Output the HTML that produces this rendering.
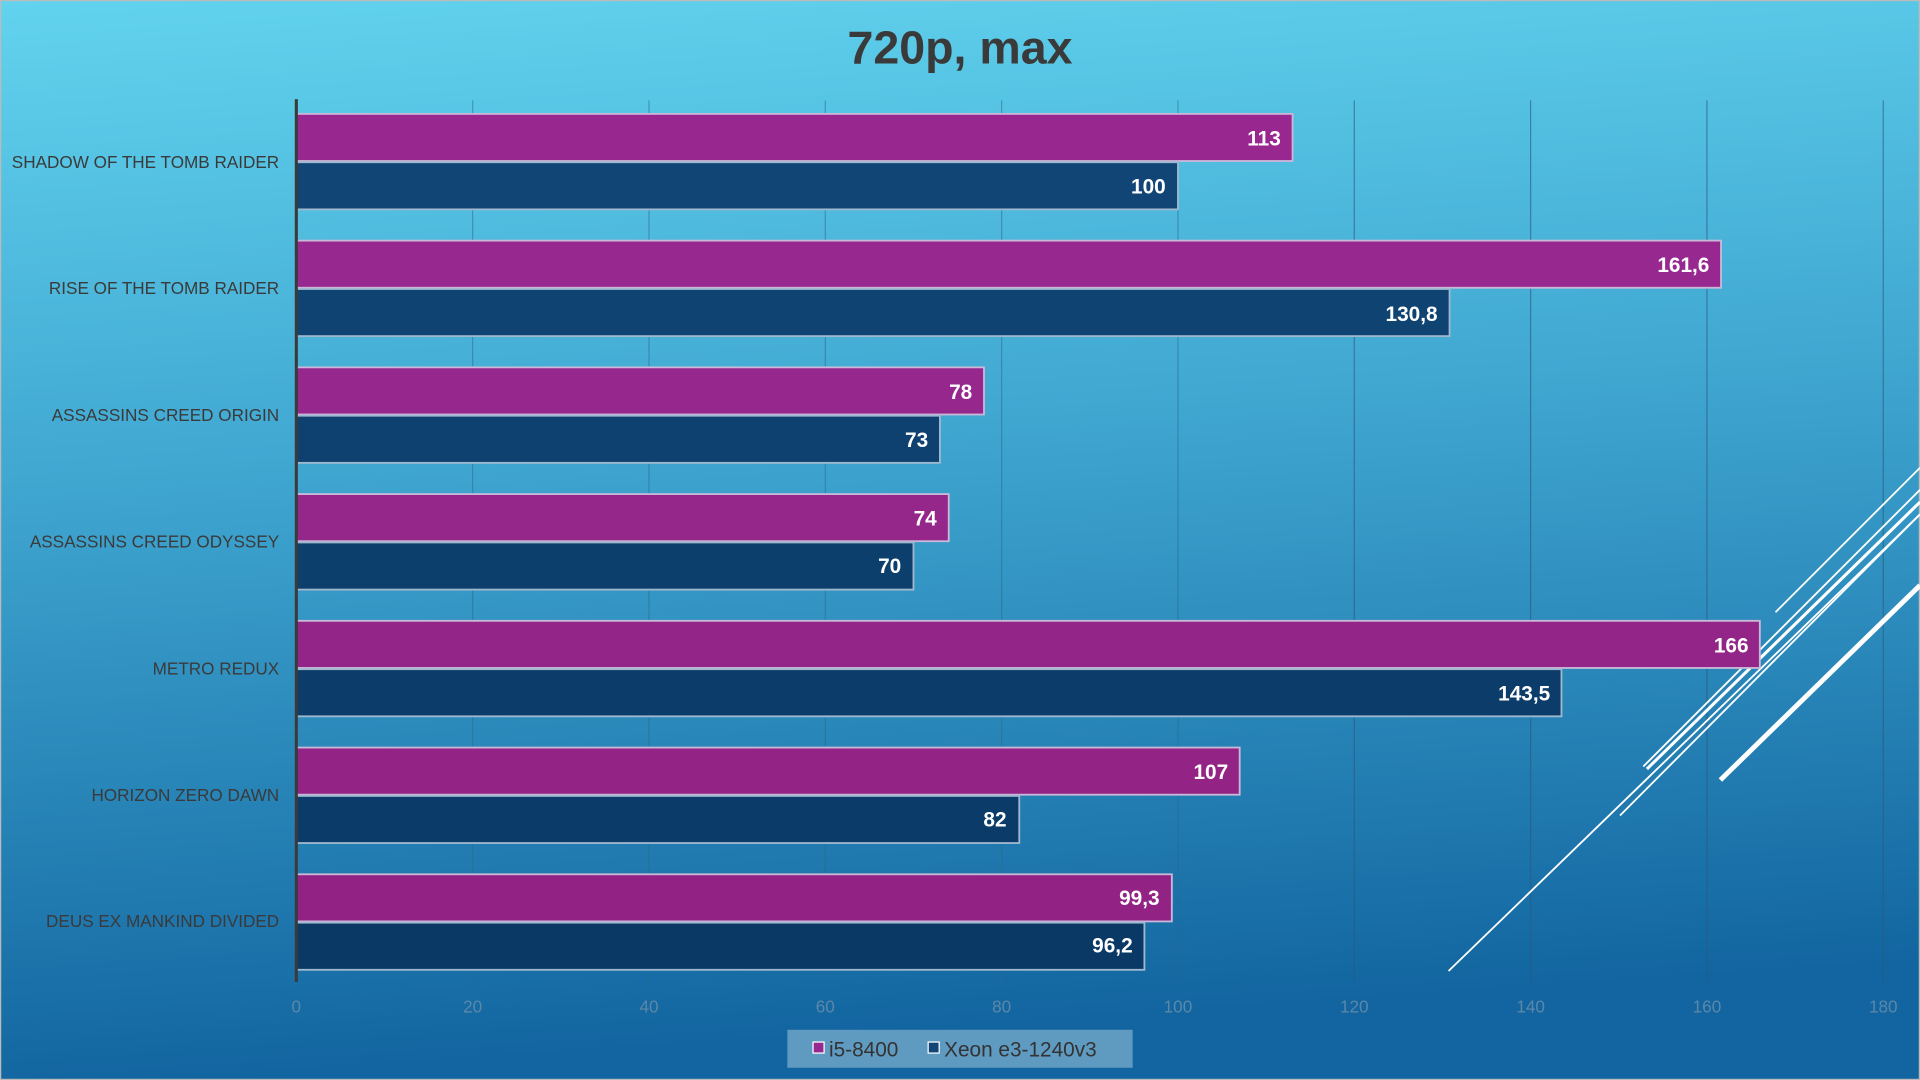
<!DOCTYPE html>
<html><head><meta charset="utf-8"><style>html,body{margin:0;padding:0;width:1920px;height:1080px;overflow:hidden}svg{display:block}</style></head>
<body>
<svg width="1920" height="1080" viewBox="0 0 1568 882" xmlns="http://www.w3.org/2000/svg" font-family="'Liberation Sans', sans-serif">
<defs>
<linearGradient id="bg" x1="0" y1="0" x2="0.12" y2="1">
<stop offset="0" stop-color="#62d3ee"/><stop offset="0.45" stop-color="#3fa6d0"/><stop offset="1" stop-color="#1265a0"/>
</linearGradient>
</defs>
<rect width="1568" height="882" fill="url(#bg)"/>
<rect x="0.5" y="0.5" width="1567" height="881" fill="none" stroke="#bbb"/>
<text x="784" y="52" text-anchor="middle" font-size="38" font-weight="bold" fill="#3a3a3a">720p, max</text>
<g stroke-width="1">
<line x1="386" y1="82" x2="386" y2="802" stroke="#2a6a8a" stroke-opacity="0.5"/>
<line x1="530" y1="82" x2="530" y2="802" stroke="#2a6a8a" stroke-opacity="0.5"/>
<line x1="674" y1="82" x2="674" y2="802" stroke="#2a6a8a" stroke-opacity="0.5"/>
<line x1="818" y1="82" x2="818" y2="802" stroke="#2a6a8a" stroke-opacity="0.5"/>
<line x1="962" y1="82" x2="962" y2="802" stroke="#2a6a8a" stroke-opacity="0.5"/>
<line x1="1106" y1="82" x2="1106" y2="802" stroke="#2a5a7a" stroke-opacity="0.6"/>
<line x1="1250" y1="82" x2="1250" y2="802" stroke="#2a5a7a" stroke-opacity="0.6"/>
<line x1="1394" y1="82" x2="1394" y2="802" stroke="#2a5a7a" stroke-opacity="0.6"/>
<line x1="1538" y1="82" x2="1538" y2="802" stroke="#2a5a7a" stroke-opacity="0.6"/>
</g>
<g stroke="#fff" stroke-width="1.5" fill="none">
<line x1="1183" y1="793" x2="1568" y2="420"/>
<line x1="1323" y1="666" x2="1568" y2="420"/>
<line x1="1342" y1="626" x2="1568" y2="400"/>
<line x1="1345" y1="628" x2="1568" y2="410" stroke-width="2.5"/>
<line x1="1450" y1="500" x2="1568" y2="382"/>
<line x1="1405" y1="637" x2="1568" y2="478" stroke-width="4"/>
</g>
<g stroke="#c9b8d8" stroke-width="1.5" font-size="17" font-weight="bold" fill="#fff">
<rect x="242" y="93" width="813.6" height="38.5" fill="#982890"/>
<rect x="242" y="132.5" width="720" height="38.5" fill="#104575" stroke="#9fb8cf"/>
<rect x="242" y="196.5" width="1163.5" height="38.5" fill="#972890"/>
<rect x="242" y="236" width="941.8" height="38.5" fill="#0f4372" stroke="#9fb8cf"/>
<rect x="242" y="300" width="561.6" height="38.5" fill="#96278c"/>
<rect x="242" y="339.5" width="525.6" height="38.5" fill="#0e416f" stroke="#9fb8cf"/>
<rect x="242" y="403.5" width="532.8" height="38.5" fill="#95268a"/>
<rect x="242" y="443" width="504" height="38.5" fill="#0d3f6c" stroke="#9fb8cf"/>
<rect x="242" y="507" width="1195.2" height="38.5" fill="#942588"/>
<rect x="242" y="546.5" width="1033.2" height="38.5" fill="#0c3d6a" stroke="#9fb8cf"/>
<rect x="242" y="610.5" width="770.4" height="38.5" fill="#932486"/>
<rect x="242" y="650" width="590.4" height="38.5" fill="#0b3b68" stroke="#9fb8cf"/>
<rect x="242" y="714" width="715" height="38.5" fill="#922384"/>
<rect x="242" y="753.5" width="692.6" height="38.5" fill="#0a3966" stroke="#9fb8cf"/>
</g>
<g font-size="17" font-weight="bold" fill="#fff" text-anchor="end">
<text x="1046" y="119">113</text><text x="952" y="158">100</text>
<text x="1396" y="222">161,6</text><text x="1174" y="262">130,8</text>
<text x="794" y="326">78</text><text x="758" y="365">73</text>
<text x="765" y="429">74</text><text x="736" y="468">70</text>
<text x="1428" y="533">166</text><text x="1266" y="572">143,5</text>
<text x="1003" y="636">107</text><text x="822" y="675">82</text>
<text x="947" y="739">99,3</text><text x="925" y="778">96,2</text>
</g>
<line x1="242" y1="81" x2="242" y2="802" stroke="#3a3a3a" stroke-width="2.5"/>
<g font-size="14" fill="#3a3a3a" text-anchor="end">
<text x="228" y="137">SHADOW OF THE TOMB RAIDER</text>
<text x="228" y="240">RISE OF THE TOMB RAIDER</text>
<text x="228" y="344">ASSASSINS CREED ORIGIN</text>
<text x="228" y="447">ASSASSINS CREED ODYSSEY</text>
<text x="228" y="551">METRO REDUX</text>
<text x="228" y="654">HORIZON ZERO DAWN</text>
<text x="228" y="757">DEUS EX MANKIND DIVIDED</text>
</g>
<g font-size="14" fill="#5b87a8" text-anchor="middle">
<text x="242" y="827">0</text><text x="386" y="827">20</text><text x="530" y="827">40</text>
<text x="674" y="827">60</text><text x="818" y="827">80</text><text x="962" y="827">100</text>
<text x="1106" y="827">120</text><text x="1250" y="827">140</text><text x="1394" y="827">160</text>
<text x="1538" y="827">180</text>
</g>
<rect x="643" y="841" width="282" height="31" fill="#7aaccc" fill-opacity="0.75"/>
<rect x="664" y="851" width="9" height="9" fill="#982890" stroke="#fff" stroke-width="1"/>
<text x="677" y="863" font-size="17" fill="#333">i5-8400</text>
<rect x="758" y="851" width="9" height="9" fill="#104575" stroke="#fff" stroke-width="1"/>
<text x="771" y="863" font-size="17" fill="#333">Xeon e3-1240v3</text>
</svg>
</body></html>
